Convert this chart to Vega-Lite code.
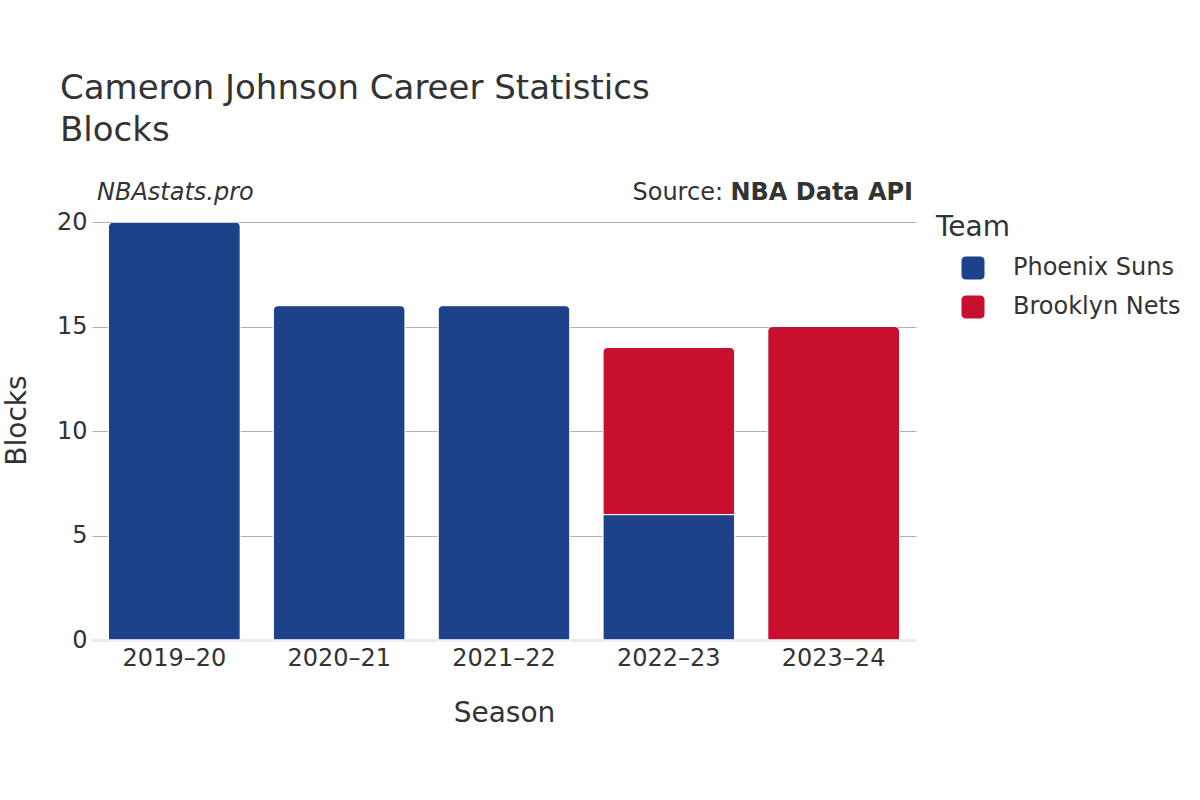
{
  "$schema": "https://vega.github.io/schema/vega-lite/v6.json",
  "width": 824,
  "height": 418,
  "autosize": "none",
  "padding": {"left": 92, "top": 222, "right": 284, "bottom": 160},
  "background": "white",
  "config": {
    "font": "DejaVu Sans",
    "view": {"stroke": null},
    "axis": {"labelColor": "#333333", "titleColor": "#333333", "titleFontWeight": "normal"}
  },
  "title": {
    "text": "Cameron Johnson Career Statistics",
    "subtitle": "Blocks",
    "anchor": "start",
    "frame": "group",
    "dx": -32,
    "offset": 33,
    "fontSize": 34,
    "fontWeight": "normal",
    "color": "#333333",
    "subtitleFontSize": 34,
    "subtitleColor": "#333333",
    "subtitlePadding": 8
  },
  "layer": [
    {
      "data": {
        "values": [
          {"Season": "2019–20", "Team": "Phoenix Suns", "Blocks": 20},
          {"Season": "2020–21", "Team": "Phoenix Suns", "Blocks": 16},
          {"Season": "2021–22", "Team": "Phoenix Suns", "Blocks": 16},
          {"Season": "2022–23", "Team": "Phoenix Suns", "Blocks": 6},
          {"Season": "2022–23", "Team": "Brooklyn Nets", "Blocks": 8},
          {"Season": "2023–24", "Team": "Brooklyn Nets", "Blocks": 15}
        ]
      },
      "mark": {"type": "bar", "cornerRadiusTopLeft": 5, "cornerRadiusTopRight": 5, "stroke": "white", "strokeWidth": 1},
      "encoding": {
        "x": {
          "field": "Season",
          "type": "nominal",
          "scale": {"paddingInner": 0.2, "paddingOuter": 0.1},
          "axis": {
            "labelAngle": 0,
            "labelFontSize": 24,
            "labelPadding": 6,
            "ticks": false,
            "domainColor": "#ebebeb",
            "domainWidth": 3,
            "titleFontSize": 28,
            "titlePadding": 29
          }
        },
        "y": {
          "field": "Blocks",
          "type": "quantitative",
          "stack": "zero",
          "scale": {"domain": [0, 20]},
          "axis": {
            "values": [0, 5, 10, 15, 20],
            "labelFontSize": 24,
            "labelPadding": 5,
            "ticks": false,
            "domain": false,
            "gridColor": "#b0b0b0",
            "gridWidth": 1,
            "titleFontSize": 28,
            "titlePadding": 25,
            "titleY": 198
          }
        },
        "color": {
          "field": "Team",
          "type": "nominal",
          "scale": {"domain": ["Phoenix Suns", "Brooklyn Nets"], "range": ["#1D428A", "#C8102E"]},
          "legend": {
            "orient": "none",
            "legendX": 844,
            "legendY": -8,
            "padding": 0,
            "titleFontSize": 28,
            "titleFontWeight": "normal",
            "titleColor": "#333333",
            "titlePadding": 14,
            "labelFontSize": 24,
            "labelColor": "#333333",
            "labelLimit": 400,
            "labelOffset": 28,
            "symbolOffset": 25,
            "symbolSize": 529,
            "symbolType": "M -0.6 -1 H 0.6 Q 1 -1 1 -0.6 V 0.6 Q 1 1 0.6 1 H -0.6 Q -1 1 -1 0.6 V -0.6 Q -1 -1 -0.6 -1 Z",
            "symbolStrokeWidth": 0,
            "rowPadding": 15
          }
        },
        "order": {"field": "Team", "sort": "descending"}
      }
    },
    {
      "data": {"values": [{"note": "NBAstats.pro"}]},
      "mark": {"type": "text", "x": 5, "y": -22, "align": "left", "baseline": "alphabetic", "fontSize": 24, "fontStyle": "italic", "color": "#333333"},
      "encoding": {"text": {"field": "note"}}
    },
    {
      "data": {"values": [{"note": "NBA Data API"}]},
      "mark": {"type": "text", "x": {"expr": "width - 3"}, "y": -22, "align": "right", "baseline": "alphabetic", "fontSize": 24, "fontWeight": "bold", "color": "#333333"},
      "encoding": {"text": {"field": "note"}}
    },
    {
      "data": {"values": [{"note": "Source:"}]},
      "mark": {"type": "text", "x": {"expr": "width - 193"}, "y": -22, "align": "right", "baseline": "alphabetic", "fontSize": 24, "color": "#333333"},
      "encoding": {"text": {"field": "note"}}
    }
  ]
}
